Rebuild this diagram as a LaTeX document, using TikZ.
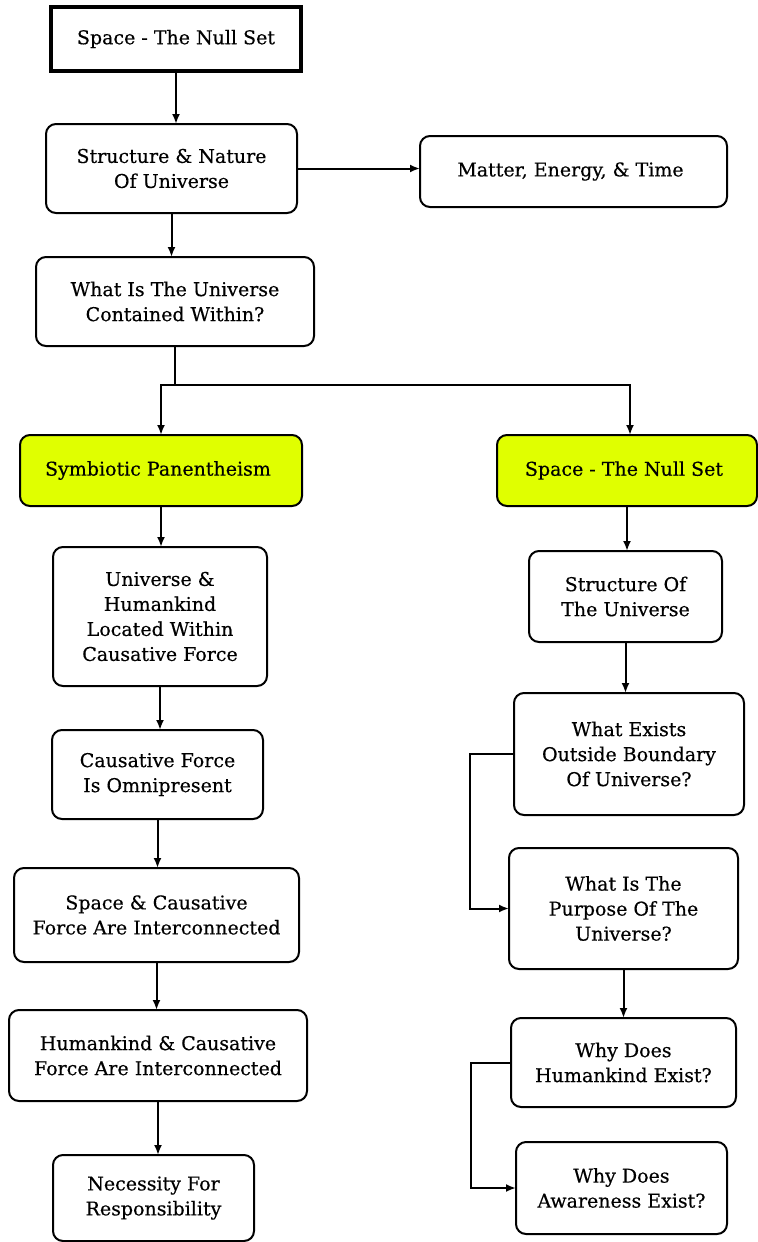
\documentclass[tikz,border=0pt]{standalone}
\usepackage{fontspec}
\setmainfont[FakeBold=0.4]{DejaVu Serif}
\usetikzlibrary{arrows.meta,positioning}
\definecolor{panyellow}{RGB}{224,255,0}
\tikzset{
  box/.style={draw,rectangle,rounded corners=5pt,line width=1pt,outer sep=0pt,align=center,
    inner sep=2pt,font=\fontsize{9.5}{12.5}\selectfont},
  startbox/.style={box,rounded corners=0pt,line width=2pt},
  hilite/.style={box,fill=panyellow},
  arr/.style={-{Latex[length=5pt,width=4pt]},line width=1pt}
}

\begin{document}
\begin{tikzpicture}[node distance=22pt and 60pt]
\useasboundingbox (0,0) rectangle (379pt,-621pt);

\node[startbox,minimum width=125pt,minimum height=32pt] (top) at (88pt,-19.5pt) {Space - The Null Set};

\node[box,minimum width=125.5pt,minimum height=44.5pt,below=26.5pt of top,xshift=-2.25pt] (struct) {
Structure \& Nature\\
Of Universe
};

\node[box,minimum width=153.5pt,minimum height=35.5pt,right=61.5pt of struct,yshift=-1.5pt] (matter) {
Matter, Energy, \& Time
};

\node[box,minimum width=139pt,minimum height=44.5pt,below=22pt of struct,xshift=1.75pt] (whatis) {
What Is The Universe\\
Contained Within?
};

\node[hilite,minimum width=141pt,minimum height=35.5pt,below=44.5pt of whatis,xshift=-7pt] (symb) {
Symbiotic Panentheism
};

\node[hilite,minimum width=130pt,minimum height=35.5pt,right=97.5pt of symb] (nullset) {
Space - The Null Set
};

% left column
\node[box,minimum width=107pt,minimum height=69.5pt,below=20.5pt of symb,xshift=-0.5pt] (located) {
Universe \&\\
Humankind\\
Located Within\\
Causative Force
};

\node[box,minimum width=105.5pt,minimum height=44.5pt,below=22pt of located,xshift=-1.25pt] (omni) {
Causative Force\\
Is Omnipresent
};

\node[box,minimum width=142.5pt,minimum height=47pt,below=24.5pt of omni,xshift=-0.5pt] (spacecf) {
Space \& Causative\\
Force Are Interconnected
};

\node[box,minimum width=149pt,minimum height=45.5pt,below=24pt of spacecf,xshift=0.75pt] (humancf) {
Humankind \& Causative\\
Force Are Interconnected
};

\node[box,minimum width=100.5pt,minimum height=43pt,below=27pt of humancf,xshift=-2.25pt] (resp) {
Necessity For\\
Responsibility
};

% right column
\node[box,minimum width=96.5pt,minimum height=45.5pt,below=22.5pt of nullset,xshift=-0.75pt] (structof) {
Structure Of\\
The Universe
};

\node[box,minimum width=115pt,minimum height=61pt,below=25.5pt of structof,xshift=1.75pt] (outside) {
What Exists\\
Outside Boundary\\
Of Universe?
};

\node[box,minimum width=114.5pt,minimum height=60.5pt,below=16.5pt of outside,xshift=-2.75pt] (purpose) {
What Is The\\
Purpose Of The\\
Universe?
};

\node[box,minimum width=112.5pt,minimum height=44.5pt,below=24.5pt of purpose] (whyhuman) {
Why Does\\
Humankind Exist?
};

\node[box,minimum width=105.5pt,minimum height=46pt,below=17.5pt of whyhuman,xshift=-1pt] (whyaware) {
Why Does\\
Awareness Exist?
};

\draw[arr] (top.south) -- (top.south |- struct.north);
\draw[arr] (struct.east) -- (struct.east -| matter.west);
\draw[arr] (struct.south) -- (struct.south |- whatis.north);

\draw[line width=1pt] (whatis.south) -- ++(0,-19.5pt) coordinate (split);
\draw[arr] (split) -| (symb.north);
\draw[arr] (split) -| ([xshift=1.5pt]nullset.north);

\draw[arr] (symb.south) -- (symb.south |- located.north);
\draw[arr] (located.south) -- (located.south |- omni.north);
\draw[arr] (omni.south) -- (omni.south |- spacecf.north);
\draw[arr] (spacecf.south) -- (spacecf.south |- humancf.north);
\draw[arr] (humancf.south) -- (humancf.south |- resp.north);

\draw[arr] (nullset.south) -- (nullset.south |- structof.north);
\draw[arr] (structof.south) -- (structof.south |- outside.north);
\draw[arr] (outside.west) -- ++(-22pt,0) |- (purpose.west);
\draw[arr] (purpose.south) -- (purpose.south |- whyhuman.north);
\draw[arr] (whyhuman.west) -- ++(-20pt,0) |- (whyaware.west);

\end{tikzpicture}
\end{document}
